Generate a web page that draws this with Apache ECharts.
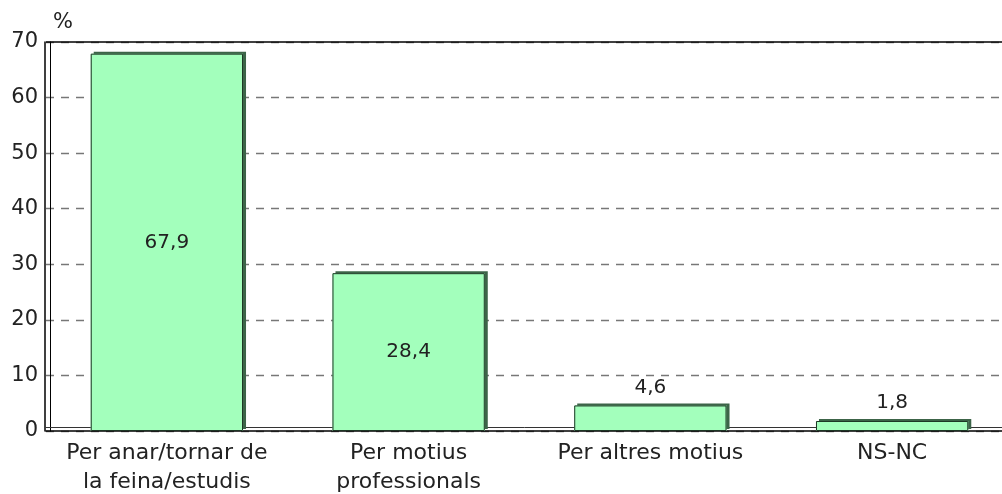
<!DOCTYPE html>
<html>
<head>
<meta charset="utf-8">
<script src="https://cdn.jsdelivr.net/npm/echarts@6/dist/echarts.min.js"></script>
<style>
  html, body { margin: 0; padding: 0; background: #fff; }
  #chart { width: 1002px; height: 494px; }
</style>
</head>
<body>
<div id="chart"></div>
<script>
const categories = ['Per anar/tornar de\nla feina/estudis', 'Per motius\nprofessionals', 'Per altres motius', 'NS-NC'];
const values = [67.9, 28.4, 4.6, 1.8];
const yTicks = [0, 10, 20, 30, 40, 50, 60, 70];

const chart = echarts.init(document.getElementById('chart'));
const font = 'DejaVu Sans, Verdana, sans-serif';
const yMax = yTicks[yTicks.length - 1];

chart.setOption({
  animation: false,
  grid: { left: 46, right: -11, top: 42, bottom: 63, outerBoundsMode: 'none', containLabel: false },
  xAxis: [{
    type: 'category',
    data: categories,
    axisLine: { lineStyle: { color: '#000', width: 1.5 } },
    axisTick: { show: false },
    axisLabel: {
      interval: 0, hideOverlap: false,
      color: '#222', fontFamily: font, fontSize: 22, lineHeight: 29, margin: 8
    }
  }, {
    // back edge of the floor
    type: 'category',
    data: categories,
    position: 'bottom',
    offset: -4,
    axisLine: { lineStyle: { color: '#333', width: 1 } },
    axisTick: { show: false },
    axisLabel: { show: false }
  }],
  yAxis: [{
    type: 'value',
    min: yTicks[0],
    max: yMax,
    interval: 10,
    name: '%',
    nameLocation: 'end',
    nameGap: 9,
    nameTextStyle: { color: '#222', fontFamily: font, fontSize: 21, align: 'left', padding: [0, 0, 0, 8] },
    offset: 1,
    axisLine: { show: true, lineStyle: { color: '#000', width: 1.5 } },
    axisTick: { show: false },
    axisLabel: { color: '#222', fontFamily: font, fontSize: 21, margin: 7 },
    splitLine: { lineStyle: { color: '#777', type: [8, 7], width: 1.4 } }
  }, {
    // back wall edge
    type: 'value',
    min: yTicks[0],
    max: yMax,
    interval: 10,
    position: 'left',
    offset: -4,
    axisLine: { show: true, lineStyle: { color: '#000', width: 1 } },
    axisTick: { show: false },
    axisLabel: { show: false },
    splitLine: { show: false }
  }],
  series: [{
    type: 'bar',
    data: values.map(v => ({
      value: v,
      label: { position: v > 10 ? 'inside' : 'top' }
    })),
    barCategoryGap: '37%',
    itemStyle: {
      color: '#a3ffbc',
      borderWidth: 0,
      shadowColor: '#3c6448',
      shadowOffsetX: 3,
      shadowOffsetY: -2,
      shadowBlur: 0
    },
    label: {
      show: true,
      color: '#222',
      fontFamily: font,
      fontSize: 20,
      distance: 8,
      formatter: p => p.value.toFixed(1).replace('.', ',')
    },
    markLine: {
      silent: true,
      symbol: 'none',
      label: { show: false },
      lineStyle: { color: '#000', type: 'solid', width: 1.5 },
      data: [{ yAxis: yMax }]
    }
  }, {
    // outline of each bar
    type: 'bar',
    data: values,
    barGap: '-100%',
    barCategoryGap: '37%',
    itemStyle: { color: 'rgba(0,0,0,0)', borderColor: '#1c3524', borderWidth: 1 },
    label: { show: false },
    z: 3
  }]
});
</script>
</body>
</html>
